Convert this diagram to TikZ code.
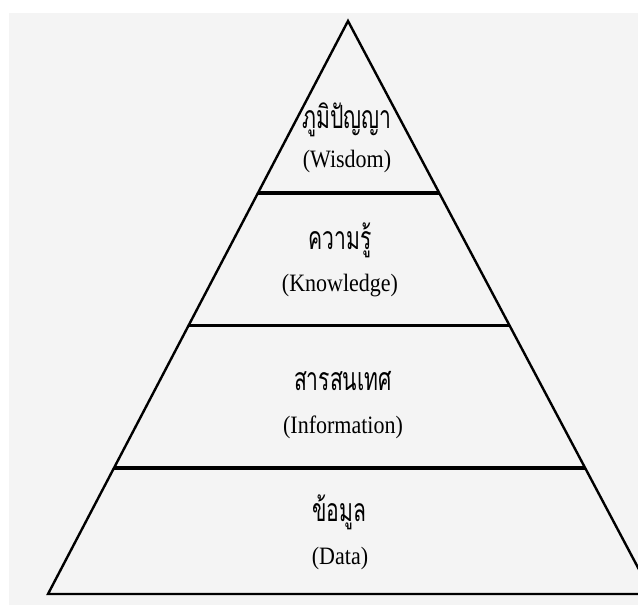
\documentclass[tikz,border=0pt]{standalone}
\usepackage{fontspec}
\usetikzlibrary{calc}
\setmainfont{Liberation Serif}
\newfontfamily\thaifont[Script=Thai,FakeStretch=0.66]{Loma}
\newfontfamily\enfont[FakeStretch=0.88]{Liberation Serif}
\definecolor{bggray}{HTML}{F4F4F4}
\tikzset{
  edge/.style={line width=2.4pt, line join=miter, line cap=butt},
  divider/.style={line width=3.2pt},
  thlabel/.style={inner sep=0pt, font=\thaifont\fontsize{32}{36}\selectfont},
  enlabel/.style={inner sep=0pt, font=\enfont\fontsize{25}{29}\selectfont}
}
\begin{document}
\begin{tikzpicture}[x=1pt,y=-1pt]
\useasboundingbox (0,0) rectangle (638,605);
\fill[white] (0,0) rectangle (638,605);
\fill[bggray] (9,13) rectangle (638,605);
\begin{scope}
\clip (0,0) rectangle (638,605);
\coordinate (apex) at (348,21);
\coordinate (bl) at (48,594);
\coordinate (br) at (652,594);
\draw[edge] (bl) -- (apex) -- (br) -- cycle;
\coordinate (l1) at ($(apex)!0.300!(bl)$);
\coordinate (r1) at ($(apex)!0.300!(br)$);
\coordinate (l2) at ($(apex)!0.532!(bl)$);
\coordinate (r2) at ($(apex)!0.532!(br)$);
\coordinate (l3) at ($(apex)!0.780!(bl)$);
\coordinate (r3) at ($(apex)!0.780!(br)$);
\draw[divider] (l1) -- (r1);
\draw[divider] (l2) -- (r2);
\draw[divider] (l3) -- (r3);
\end{scope}
\node[thlabel] (wisth) at (347,120) {ภูมิปัญญา};
\node[enlabel] (wisen) at (347,161) {(Wisdom)};
\node[thlabel] (knoth) at (340,240) {ความรู้};
\node[enlabel] (knoen) at (340,286) {(Knowledge)};
\node[thlabel] (infth) at (343,381) {สารสนเทศ};
\node[enlabel] (infen) at (343,427) {(Information)};
\node[thlabel] (datth) at (339,512) {ข้อมูล};
\node[enlabel] (daten) at (340,558) {(Data)};
\end{tikzpicture}
\end{document}
